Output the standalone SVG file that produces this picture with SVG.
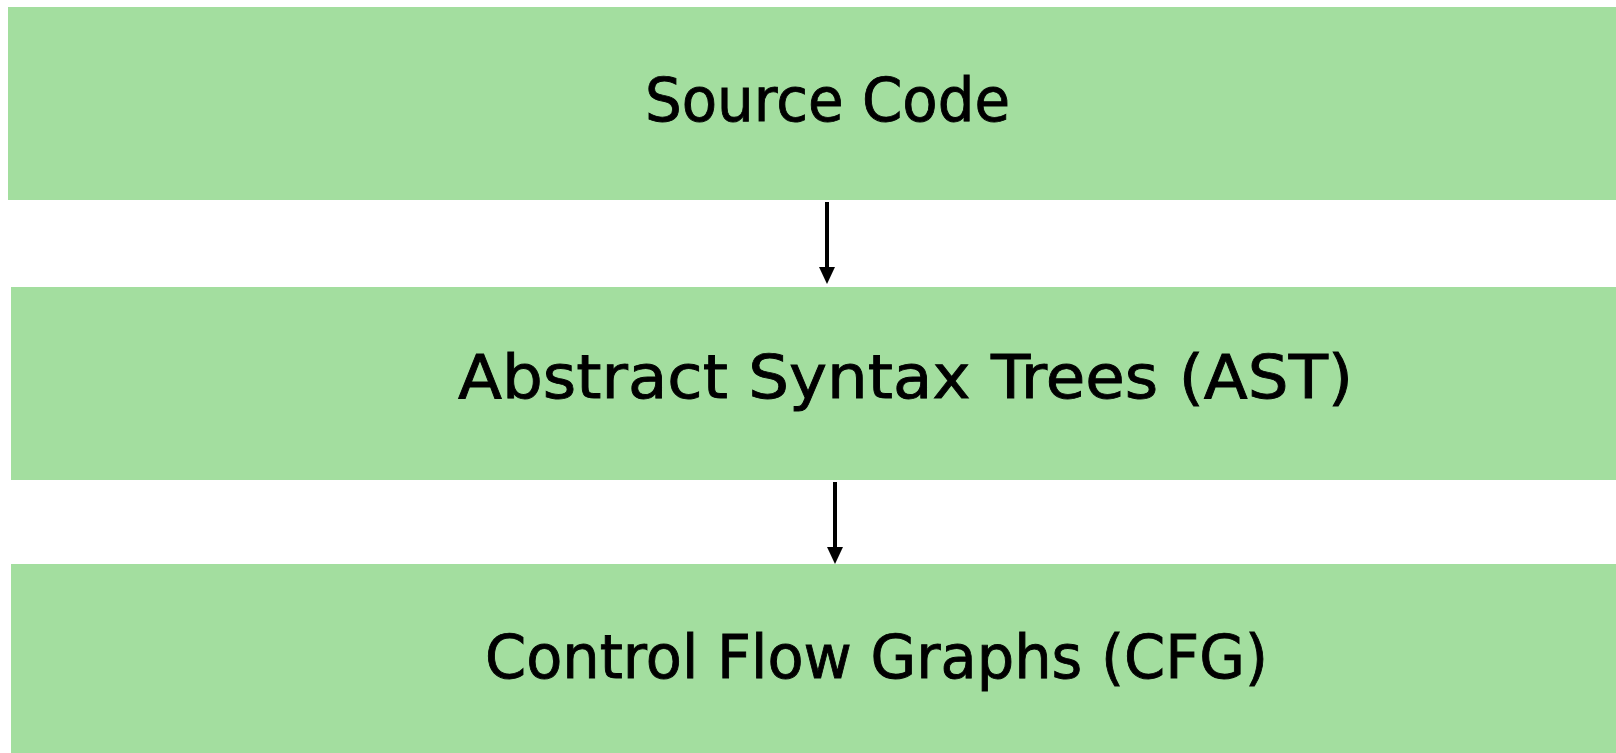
<svg xmlns="http://www.w3.org/2000/svg" width="1616" height="753" viewBox="0 0 1616 753">
  <style>
    .stage { fill: #a3de9f; }
    .label { font-family: "Comic Sans MS", "DejaVu Sans", "Noto Sans", sans-serif; font-size: 61px; fill: #000; stroke: #000; stroke-width: 0.9; }
    .flow { stroke: #000; stroke-width: 4; fill: none; }
  </style>
  <rect width="1616" height="753" fill="#fff"/>

  <g id="source-code">
    <rect class="stage" x="8" y="7" width="1608" height="193"/>
    <text class="label" x="645" y="121" textLength="365" lengthAdjust="spacingAndGlyphs">Source Code</text>
  </g>

  <g id="ast">
    <rect class="stage" x="11" y="287" width="1605" height="193"/>
    <text class="label" x="458" y="398" textLength="895" lengthAdjust="spacingAndGlyphs">Abstract Syntax Trees (AST)</text>
  </g>

  <g id="cfg">
    <rect class="stage" x="11" y="564" width="1605" height="189"/>
    <text class="label" x="485" y="678" textLength="783" lengthAdjust="spacingAndGlyphs">Control Flow Graphs (CFG)</text>
  </g>

  <g id="connectors">
    <path class="flow" d="M827,202 V268"/>
    <path d="M819,267 L835,267 L827,284 Z" fill="#000"/>
    <path class="flow" d="M835,482 V548"/>
    <path d="M827,547 L843,547 L835,564 Z" fill="#000"/>
  </g>
</svg>
